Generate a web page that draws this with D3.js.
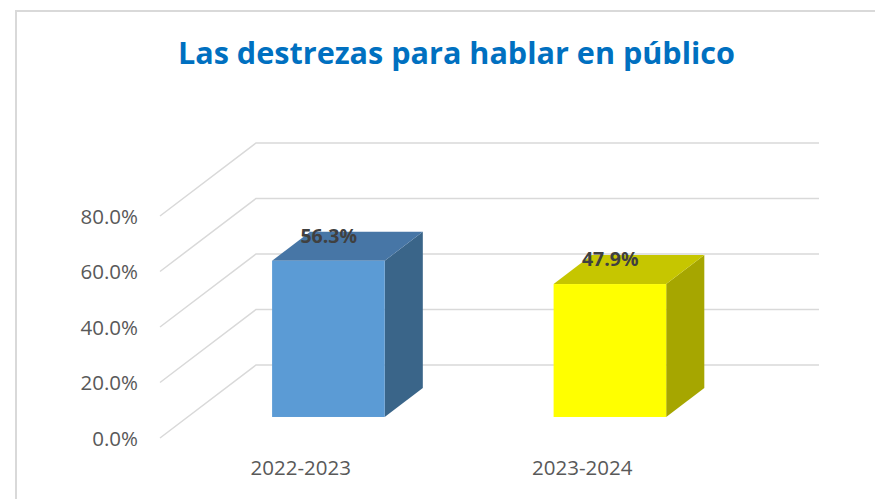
<!DOCTYPE html>
<html><head><meta charset="utf-8">
<script src="https://cdn.jsdelivr.net/npm/d3@7"></script>
<style>html,body{margin:0;padding:0;background:#fff;}svg{display:block;}</style>
</head><body>
<svg id="chart" width="875" height="499"></svg>
<script>
const title = "Las destrezas para hablar en público";
const categories = ["2022-2023", "2023-2024"];
const values = [56.3, 47.9];
const yTicks = [0, 20, 40, 60, 80];
const frontColors = ["#5B9BD5", "#FFFF00"];
const topColors = ["#4776A6", "#C6C600"];
const sideColors = ["#3A6589", "#A6A600"];

const svg = d3.select("#chart");
const W = 875, H = 499;

// chart border
svg.append("rect").attr("x", 16).attr("y", 11).attr("width", 900).attr("height", 520)
  .attr("fill", "#fff").attr("stroke", "#d9d9d9").attr("stroke-width", 2);

// title
svg.append("text").attr("x", 178).attr("y", 64)
  .attr("font-family", "'Open Sans', sans-serif").attr("font-weight", "bold")
  .attr("font-size", 31).attr("fill", "#0070C0")
  .attr("textLength", 557).attr("lengthAdjust", "spacingAndGlyphs")
  .text(title);

// 3D projection: depth shift of the back wall
const depthX = 96, depthY = -73;
const y = d3.scaleLinear().domain([0, 80]).range([438, 216]);
const x = d3.scaleBand().domain(categories).range([160, 723]).paddingInner(0.6).paddingOuter(0.3);
const zFront = 0.288, zBack = 0.685;

// gridlines
const grid = svg.append("g");
yTicks.forEach(t => {
  const y0 = y(t);
  grid.append("path")
    .attr("d", `M160,${y0} L${160 + depthX},${y0 + depthY} L${723 + depthX},${y0 + depthY}`)
    .attr("fill", "none").attr("stroke", "#d9d9d9").attr("stroke-width", 1.5);
});

// y axis labels
const yAxis = d3.axisLeft(y).tickValues(yTicks).tickSize(0).tickPadding(0)
  .tickFormat(d => d3.format(".1f")(d) + "%");
const ya = svg.append("g").attr("transform", "translate(138,0)").call(yAxis);
ya.select(".domain").remove();
ya.selectAll("text").attr("font-family", "'Open Sans', sans-serif")
  .attr("font-size", 20.5).attr("fill", "#595959").attr("dy", "0.35em");

// x axis labels
const xAxis = d3.axisBottom(x).tickSize(0).tickPadding(0);
const xa = svg.append("g").attr("transform", "translate(0,456)").call(xAxis);
xa.select(".domain").remove();
xa.selectAll("text").attr("font-family", "'Open Sans', sans-serif")
  .attr("font-size", 20.5).attr("fill", "#595959").attr("dy", "0.95em");

// bars
const bars = svg.append("g");
const dx = (zBack - zFront) * depthX, dy = (zBack - zFront) * depthY;
categories.forEach((c, i) => {
  const x0 = x(c) + zFront * depthX, x1 = x0 + x.bandwidth();
  const yb = y(0) + zFront * depthY, yt = y(values[i]) + zFront * depthY;
  bars.append("polygon")
    .attr("points", [[x1, yt], [x1 + dx, yt + dy], [x1 + dx, yb + dy], [x1, yb]].join(" "))
    .attr("fill", sideColors[i]);
  bars.append("polygon")
    .attr("points", [[x0, yt], [x1, yt], [x1 + dx, yt + dy], [x0 + dx, yt + dy]].join(" "))
    .attr("fill", topColors[i]);
  bars.append("rect").attr("x", x0).attr("y", yt).attr("width", x1 - x0).attr("height", yb - yt)
    .attr("fill", frontColors[i]);
  svg.append("text")
    .attr("x", x(c) + x.bandwidth() / 2 + 28).attr("y", yt - 18)
    .attr("text-anchor", "middle")
    .attr("font-family", "'Open Sans', sans-serif").attr("font-weight", "bold")
    .attr("font-size", 19.5).attr("fill", "#404040")
    .text(d3.format(".1f")(values[i]) + "%");
});
</script>
</body></html>
